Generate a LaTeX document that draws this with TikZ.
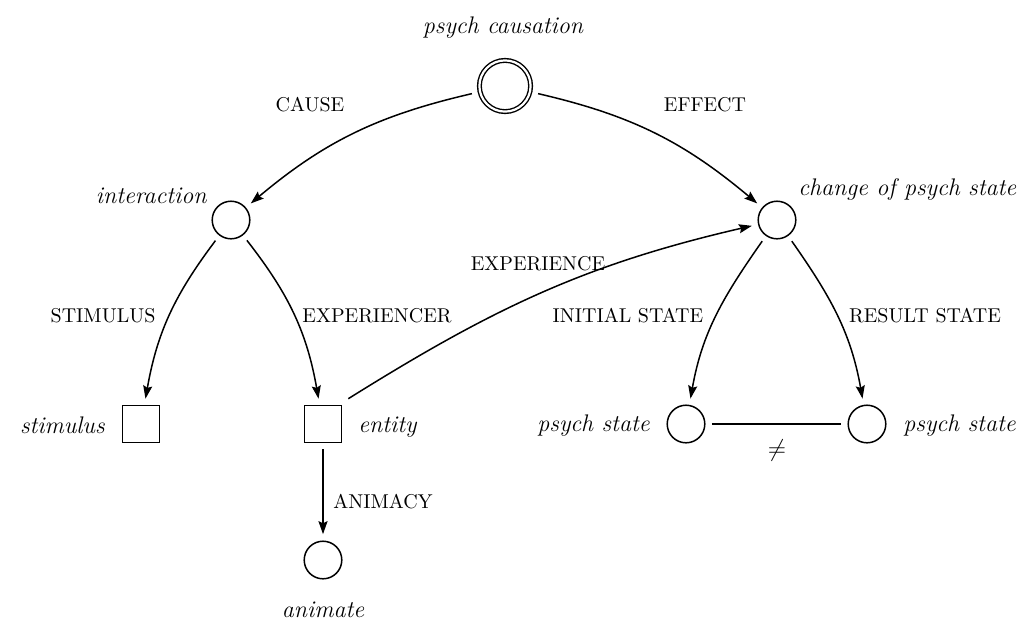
\documentclass[tikz,border=0pt]{standalone}
\usetikzlibrary{arrows.meta}
\begin{document}
\begin{tikzpicture}[x=0.5pt,y=-0.5pt,
  every node/.style={inner sep=0pt},
  state/.style={circle,draw,line width=0.75pt,minimum size=18.8pt,outer sep=3.5pt},
  topstate/.style={circle,draw,double,double distance=1.1pt,line width=0.7pt,minimum size=25.6pt,outer sep=4.2pt},
  entbox/.style={rectangle,draw,line width=0.75pt,minimum size=18.3pt,outer sep=3.5pt},
  nm/.style={font=\large\itshape},
  rel/.style={font=\normalsize,anchor=base},
  link/.style={line width=0.75pt,-{Stealth[length=6.5pt,width=4.5pt,inset=1pt]}},
  plain/.style={line width=0.75pt}
]
\useasboundingbox (0,0) rectangle (1028,623);

% nodes
\node[topstate] (pc) at (505,86) {};
\node[state] (int) at (231,220) {};
\node[state] (chg) at (777,220) {};
\node[entbox] (stim) at (141,424) {};
\node[entbox] (ent) at (323,424) {};
\node[state] (anim) at (323,560) {};
\node[state] (ps1) at (686,424) {};
\node[state] (ps2) at (867,424) {};

% node names
\node[nm,anchor=base] (pcL) at (503,33) {psych causation};
\node[nm,anchor=base east] (intL) at (207,203) {interaction};
\node[nm,anchor=base west] (chgL) at (798,195) {change of psych state};
\node[nm,anchor=base east] (stimL) at (105,433) {stimulus};
\node[nm,anchor=base west] (entL) at (358,432) {entity};
\node[nm,anchor=base] (animL) at (323,617) {animate};
\node[nm,anchor=base east] (ps1L) at (650,431) {psych state};
\node[nm,anchor=base west] (ps2L) at (903,431) {psych state};

% connectors
\draw[link] (pc) to[out=193,in=40] (int);
\draw[link] (pc) to[out=-13,in=140] (chg);
\draw[link] (int) to[out=233,in=80] (stim);
\draw[link] (int) to[out=-52,in=100] (ent);
\draw[link] (ent.north east) to[out=32,in=193] (chg);
\draw[link] (chg) to[out=235,in=80] (ps1);
\draw[link] (chg) to[out=-55,in=100] (ps2);
\draw[link] (ent) -- (anim);
\draw[plain] (ps1) -- (ps2);

% relation labels
\node[rel] (causeL) at (310,111) {CAUSE};
\node[rel] (effectL) at (705,111) {EFFECT};
\node[rel] (stimR) at (103,322) {STIMULUS};
\node[rel] (expR) at (377,322) {EXPERIENCER};
\node[rel] (expeR) at (538,270) {EXPERIENCE};
\node[rel] (initR) at (628,322) {INITIAL STATE};
\node[rel] (resR) at (925,322) {RESULT STATE};
\node[rel] (animR) at (383,508) {ANIMACY};
\node[font=\large] (neq) at (777,450) {$\neq$};
\end{tikzpicture}
\end{document}
